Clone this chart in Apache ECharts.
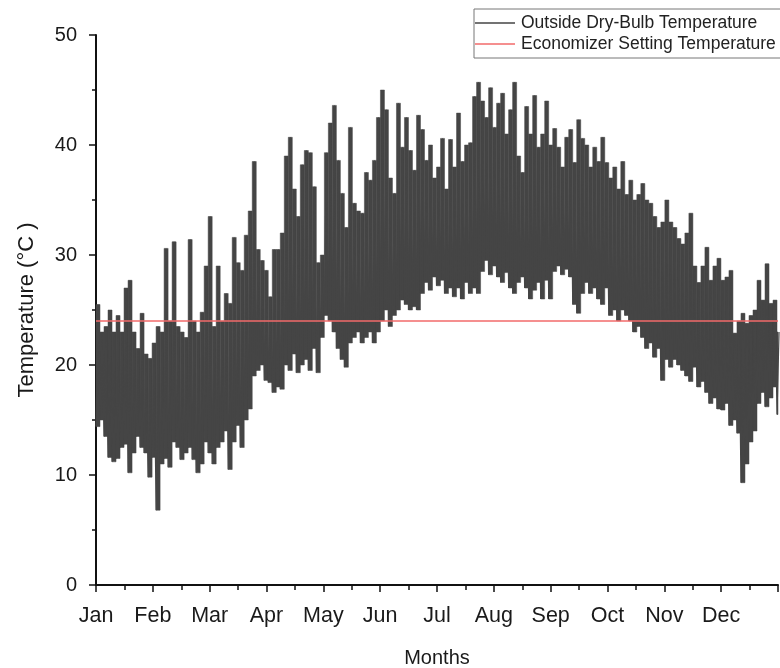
<!DOCTYPE html>
<html>
<head>
<meta charset="utf-8">
<script src="https://cdn.jsdelivr.net/npm/echarts@6/dist/echarts.min.js"></script>
<style>html,body{margin:0;padding:0;background:#fff}#c{width:780px;height:668px}</style>
</head>
<body>
<div id="c"></div>
<script>
// Month tick labels
const monthLabels = ['Jan','Feb','Mar','Apr','May','Jun','Jul','Aug','Sep','Oct','Nov','Dec'];
// Sampling step of the envelope readings (days)
const stepDays = 2.144;
// Upper envelope of outside dry-bulb temperature (°C), one reading per step
const hiTemp = [25.5,23,23.5,25,23,24.5,23,27,27.7,23,21.5,24.7,21,20.6,22,23.5,23,30.6,24,31.2,23.5,23,22.5,31.4,24,23,24.8,29,33.5,23.5,29,24,26.5,25.6,31.6,29.3,28.6,31.8,34,38.5,30.5,29.5,28.6,26.2,30.5,30.5,32,39,40.7,36,33.5,38.2,39.5,39.3,36.2,29.3,30,39.3,42,43.6,38.6,35.6,32.5,41.6,34.7,34,33.8,37.5,36.8,38.6,42.5,45,43.2,37,35.6,43.8,39.8,42.5,39.5,37.7,42.7,41.4,38.6,40,37,38,40.6,36,40.5,38,42.9,38.5,40,40.2,44.4,45.7,44,42.5,45.2,41.6,43.8,44.7,41,43.2,45.7,39,37.5,43.5,41,44.5,39.8,41,44,40,41.5,39.8,38,40.7,41.4,38.4,42.3,40.6,40,38,39.8,38.5,40.7,38.4,37,38,36,38.5,35.5,36.8,35,35.5,36.5,35,34.7,33.5,32.5,33,35,33,32.5,31.5,31,32,33.8,29,27.5,29,30.7,27.7,29,29.7,27.7,28,28.6,22.9,24,24.7,23.8,24.5,25,27.7,25.9,29.2,25.6,25.9,23];
// Lower envelope of outside dry-bulb temperature (°C)
const loTemp = [14.4,15,13.5,11.6,11.2,11.5,12.5,12.8,10.2,12,13.5,12.5,12,9.8,11.6,6.8,11,11.5,10.7,13,12.5,11.4,12,12.5,11.4,10.2,11,13,12,11,12.5,13,14,10.5,13,14.5,12.5,15,16,19,19.5,20,18.6,18.4,17.5,18,17.8,20,19.5,21,19.3,20,20.5,19.5,21.5,19.3,22.5,24.5,24,23,21.5,20.5,19.8,22,22.5,23,22,22.5,23,22,23,24,25,23.5,24.5,25,25.9,25.5,25,25.3,25,26.5,27.5,26.8,28,27.2,27.7,26.5,27,26.2,27,26,27.5,26.5,27,26.5,28.5,29.5,28.2,29,28,27.5,28.4,27,26.5,27.5,28,27,26,26.8,27.5,26,27.7,26,28.5,29,28.2,28.7,28,25.5,24.7,26.5,27.5,26.5,27,26,25.5,27,24.5,25,24,25,24.5,24,23,23.5,22.5,21.5,22,20.7,21.5,18.6,20.5,19.8,20.5,20,19.5,19,18.5,19.8,18,18.5,17.5,16.5,17,16,15.9,16.5,14.5,15,13.8,9.3,11,13,14,16.5,17.5,16.2,17,18,15.5];
// Economizer setting temperature (°C)
const setpointTemp = 24;
const yTicks = {min: 0, max: 50, interval: 10};

const toMonth = d => d / 365 * 12;
const outside = [];   // zig-zag trace lo -> hi -> lo ...
const band = [];      // [xStart, lo, xEnd, hi] per reading
for (let i = 0; i < hiTemp.length; i++) {
  const d = i * stepDays;
  outside.push([toMonth(d), loTemp[i]]);
  outside.push([toMonth(d + stepDays / 2), hiTemp[i]]);
  band.push([toMonth(d), loTemp[i], Math.min(12, toMonth(d + stepDays)), hiTemp[i]]);
}
const setpoint = [[0, setpointTemp], [12, setpointTemp]];

const font = 'Liberation Sans, Arial, sans-serif';
const dark = '#454545';
const red = '#f26a6a';
const chart = echarts.init(document.getElementById('c'), null, {renderer: 'canvas'});
chart.setOption({
  animation: false,
  backgroundColor: '#fff',
  grid: {left: 96, right: 2, top: 35, bottom: 83, containLabel: false, outerBoundsMode: 'none'},
  legend: {
    orient: 'vertical', left: 474, top: 9,
    icon: 'rect', itemWidth: 40, itemHeight: 1.5, itemGap: 3,
    padding: [5, 30, 5, 1],
    borderColor: '#777', borderWidth: 1,
    textStyle: {fontFamily: font, fontSize: 17.5, color: '#222', padding: [0, 0, 0, 1]},
    data: ['Outside Dry-Bulb Temperature', 'Economizer Setting Temperature']
  },
  xAxis: {
    type: 'value', min: 0, max: 12, interval: 1,
    name: 'Months', nameLocation: 'middle', nameGap: 63,
    nameTextStyle: {fontFamily: font, fontSize: 20, color: '#1a1a1a'},
    axisLine: {show: true, onZero: false, lineStyle: {color: '#111', width: 2}},
    axisTick: {show: true, inside: false, length: 7, lineStyle: {color: '#111', width: 1.5}},
    minorTick: {show: true, splitNumber: 2, length: 5, lineStyle: {color: '#111', width: 1.5}},
    splitLine: {show: false},
    axisLabel: {
      margin: 20, fontFamily: font, fontSize: 21.5, color: '#1a1a1a',
      hideOverlap: false, showMaxLabel: false,
      formatter: v => (v < 12) ? monthLabels[v] : ''
    }
  },
  yAxis: {
    type: 'value', min: yTicks.min, max: yTicks.max, interval: yTicks.interval,
    name: 'Temperature (°C )', nameLocation: 'middle', nameGap: 58, nameRotate: 90,
    nameTextStyle: {fontFamily: font, fontSize: 22, color: '#1a1a1a'},
    axisLine: {show: true, lineStyle: {color: '#111', width: 2}},
    axisTick: {show: true, inside: false, length: 7, lineStyle: {color: '#111', width: 1.5}},
    minorTick: {show: true, splitNumber: 2, length: 4, lineStyle: {color: '#111', width: 1.5}},
    splitLine: {show: false},
    axisLabel: {margin: 19, fontFamily: font, fontSize: 20, color: '#1a1a1a'}
  },
  series: [
    {
      name: 'Outside Dry-Bulb Temperature', type: 'line', data: outside,
      symbol: 'none', sampling: null, clip: true, z: 3,
      lineStyle: {color: dark, width: 1.2},
      itemStyle: {color: dark}
    },
    {
      name: 'band', type: 'custom', data: band, z: 2,
      renderItem: function (params, api) {
        const p0 = api.coord([api.value(0), api.value(1)]);
        const p1 = api.coord([api.value(2), api.value(3)]);
        return {
          type: 'rect',
          shape: {x: p0[0], y: p1[1], width: p1[0] - p0[0], height: p0[1] - p1[1]},
          style: {fill: dark, stroke: dark, lineWidth: 0.5}
        };
      }
    },
    {
      name: 'Economizer Setting Temperature', type: 'line', data: setpoint,
      symbol: 'none', z: 4,
      lineStyle: {color: red, width: 1.5},
      itemStyle: {color: red}
    }
  ]
});
</script>
</body>
</html>
